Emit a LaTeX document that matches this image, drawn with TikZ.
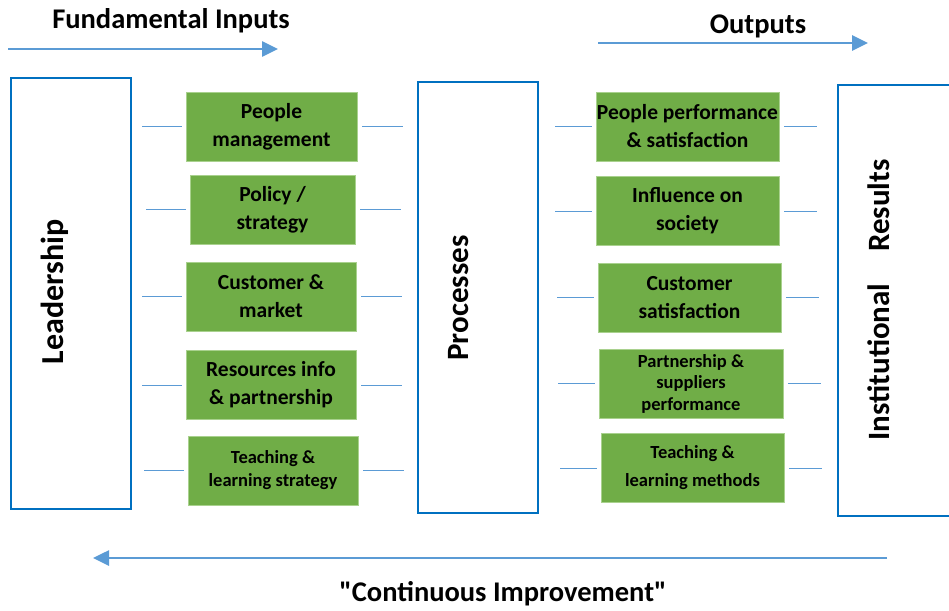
\documentclass[tikz,border=0pt]{standalone}
\usepackage{fontspec}
\setmainfont{Carlito}[Ligatures=TeXOff]
\usepackage{tikz}
\usetikzlibrary{positioning, arrows.meta, calc}
\definecolor{boxblue}{HTML}{0070C0}
\definecolor{linkblue}{HTML}{5B9BD5}
\definecolor{factgreen}{HTML}{70AD47}
\definecolor{factedge}{HTML}{A9D18E}

\begin{document}
\begin{tikzpicture}[
    x=1pt, y=-1pt,
    pillar/.style={draw=boxblue, line width=1.2pt, minimum width=120pt, minimum height=431pt, inner sep=0pt},
    vlabel/.style={rotate=90, font=\fontsize{31}{36}\selectfont\bfseries},
    factor/.style={draw=factedge, line width=0.6pt, fill=factgreen, minimum height=69pt, inner sep=1pt,
        align=center, font=\fontsize{21.5}{28}\selectfont\bfseries},
    factorsm/.style={factor, font=\fontsize{18.5}{23}\selectfont\bfseries},
    heading/.style={font=\fontsize{28.5}{32}\selectfont\bfseries},
    link/.style={linkblue, line width=0.8pt},
    flow/.style={-{Triangle[length=16pt, width=15pt]}, linkblue, line width=2.6pt}
]
\useasboundingbox (0,0) rectangle (949,610);

% The three pillars
\node[pillar] (lead) at (71,293.5) {};
\node[pillar] (proc) at (478,297.5) {};
\node[pillar, minimum width=122pt] (res) at (899,300.5) {};
\node[vlabel, font=\fontsize{32}{36}\selectfont\bfseries] (lead-text) at (55,292) {Leadership};
\node[vlabel] (proc-text) at (459,298) {Processes};
\node[vlabel] (res-text) at (879,300) {Institutional\hspace{0.8em} Results};

% Enablers between leadership and processes
\node[factor, minimum width=171pt] (pm) at (271.5,126.5) {People\\management};
\node[factor, minimum width=165pt] (ps) at (272.5,209.5) {Policy /\\strategy};
\node[factor, minimum width=170pt] (cm) at (271,296.5) {Customer \&\\market};
\node[factor, minimum width=170pt] (rp) at (271,385) {Resources info\\\& partnership};
\node[factorsm, minimum width=170pt] (tls) at (273,470.5) {Teaching \&\\learning strategy};

% Results between processes and institutional results
\node[factor, minimum width=183pt] (pps) at (687.5,126.5) {People performance\\\& satisfaction};
\node[factor, minimum width=183pt] (ios) at (687.5,211) {Influence on\\society};
\node[factor, minimum width=183pt] (cs) at (689.5,297.5) {Customer\\satisfaction};
\node[factorsm, font=\fontsize{18.5}{21.5}\selectfont\bfseries, minimum width=184pt] (psp) at (691,383.5) {Partnership \&\\suppliers\\performance};
\node[factorsm, font=\fontsize{18.5}{28}\selectfont\bfseries, minimum width=183pt] (tlm) at (692.5,468) {Teaching \&\\learning methods};

% Short links on both sides of every box
\foreach \n in {pm, ps, cm, rp, tls} {
    \draw[link] ([xshift=-4pt]\n.west) -- ++(-40,0);
    \draw[link] ([xshift=5pt]\n.east) -- ++(41,0);
}
\foreach \n in {pps, ios, cs, psp, tlm} {
    \draw[link] ([xshift=-4pt]\n.west) -- ++(-37,0);
    \draw[link] ([xshift=5pt]\n.east) -- ++(33,0);
}

% Flow arrows and headings
\coordinate (in-start) at (8,49);
\coordinate (in-end) at (278,49);
\coordinate (out-start) at (598,43);
\coordinate (out-end) at (868,43);
\coordinate (ci-start) at (887,558);
\coordinate (ci-end) at (93,558);
\draw[flow] (in-start) -- (in-end);
\draw[flow] (out-start) -- (out-end);
\draw[flow] (ci-start) -- (ci-end);
\node[heading] (in-text) at (171,21) {Fundamental Inputs};
\node[heading] (out-text) at (758,26) {Outputs};
\node[heading] (ci-text) at (503,594) {"Continuous Improvement"};

\end{tikzpicture}
\end{document}
